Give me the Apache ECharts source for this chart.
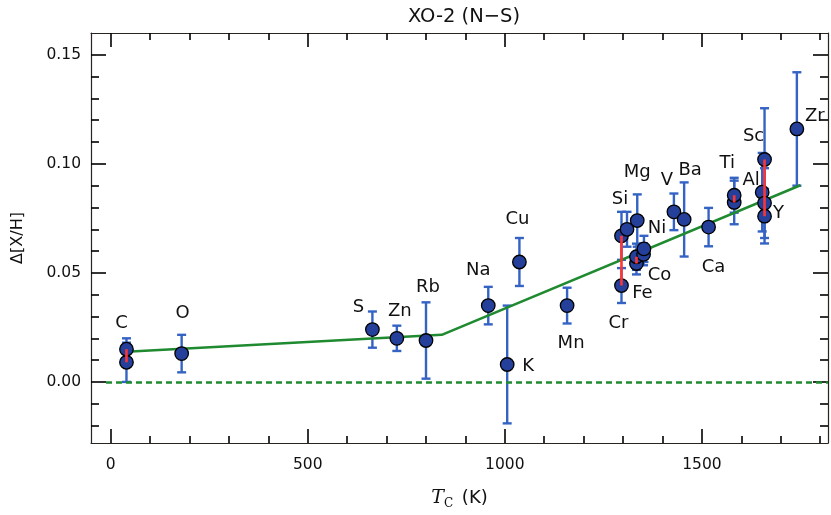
<!DOCTYPE html>
<html>
<head>
<meta charset="utf-8">
<script src="https://cdn.jsdelivr.net/npm/echarts@6/dist/echarts.min.js"></script>
<style>html,body{margin:0;padding:0;background:#fff}#c{width:831px;height:515px}</style>
</head>
<body>
<div id="c"></div>
<script>
// ---- data ----
const elements = ['C','O','S','Zn','Rb','Na','K','Cu','Mn','Cr','Si','Mg','Fe','Co','Ni','V','Ba','Ca','Ti','Al','Sc','Y','Zr'];
const tc =       [40, 180, 664, 726, 800, 958, 1006, 1037, 1158, 1296, 1310, 1336, 1334, 1352, 1353, 1429, 1455, 1517, 1582, 1653, 1659, 1659, 1741];
// first species
const dA =  [0.015, 0.013, 0.024, 0.020, 0.019, 0.035, 0.008, 0.055, 0.035, 0.067, 0.070, 0.074, 0.0574, 0.0585, 0.061, 0.078, 0.0745, 0.071, 0.0856, 0.087, 0.102, 0.082, 0.116];
const eA =  [0.005, 0.0086, 0.0083, 0.0058, 0.0175, 0.0086, 0.027, 0.011, 0.0082, 0.011, 0.008, 0.012, 0.006, 0.005, 0.006, 0.0084, 0.017, 0.0088, 0.008, 0.018, 0.0235, 0.016, 0.026];
// second species (ionised / molecular), null if none
const dB =  [0.009, null, null, null, null, null, null, null, null, 0.0442, null, null, 0.0543, null, null, null, null, null, 0.0823, null, 0.076, null, null];
const eB =  [0.009, null, null, null, null, null, null, null, null, 0.008, null, null, 0.005, null, null, null, null, null, 0.010, null, 0.0125, null, null];
// trend line
const trendTc = [40, 840, 1750];
const trendD  = [0.0138, 0.0216, 0.0902];
// tick values
const xMajor = [0, 500, 1000, 1500];
const xMinor = [100,200,300,400,600,700,800,900,1100,1200,1300,1400,1600,1700,1800];
const yMajor = [0, 0.05, 0.10, 0.15];
const yMinor = [-0.02,-0.01,0.01,0.02,0.03,0.04,0.06,0.07,0.08,0.09,0.11,0.12,0.13,0.14];

// ---- label placement (pixel offsets from the first-species point) ----
const labelOffsets = {
  C:[-5,-26], O:[1,-40], S:[-14,-22], Zn:[3,-27], Rb:[2,-53], Na:[-10,-35], K:[21,2], Cu:[-2,-43],
  Mn:[4,38], Cr:[-3,88], Si:[-7,-30], Mg:[0,-48], Fe:[6,37], Co:[16,21], Ni:[13,-21], V:[-7,-32],
  Ba:[6,-49], Ca:[5,40], Ti:[-7,-32], Al:[-11,-12], Sc:[-11,-23], Y:[14,10], Zr:[18,-13]
};

const XMIN = -50, XMAX = 1820, YMIN = -0.028, YMAX = 0.16;
const FONT = 'DejaVu Sans';
const errColor = '#3463c4', ptColor = '#24409a', green = '#1f8a30', red = '#ff3535', frame = '#2a2420';

const errData = [], ptData = [], redData = [];
elements.forEach((el, i) => {
  errData.push([tc[i], dA[i], eA[i]]);
  if (dB[i] !== null) { errData.push([tc[i], dB[i], eB[i]]); redData.push([tc[i], dA[i], dB[i]]); }
});
elements.forEach((el, i) => {
  if (dB[i] !== null) ptData.push({value:[tc[i], dB[i]]});
});
elements.forEach((el, i) => {
  const o = labelOffsets[el];
  ptData.push({value:[tc[i], dA[i]], name: el,
    label:{show:true, position:'inside', offset:o, formatter: el, color:'#111', fontSize:18, fontFamily:FONT}});
});

function mkX(pos, values, len, showLabel, showLine) {
  return {type:'value', min:XMIN, max:XMAX, position:pos, gridIndex:0,
    axisLine:{show:showLine, onZero:false, lineStyle:{color:frame, width:1.2}},
    axisTick:{show:true, inside:true, length:len, customValues:values, lineStyle:{color:'#000', width:1.6}},
    axisLabel:{show:showLabel, customValues:values, margin:14, color:'#111', fontSize:15.5, fontFamily:FONT,
      formatter: v => String(v)},
    splitLine:{show:false}};
}
function mkY(pos, values, len, showLabel, showLine) {
  return {type:'value', min:YMIN, max:YMAX, position:pos, gridIndex:0,
    axisLine:{show:showLine, onZero:false, lineStyle:{color:frame, width:1.2}},
    axisTick:{show:true, inside:true, length:len, customValues:values, lineStyle:{color:'#000', width:1.6}},
    axisLabel:{show:showLabel, customValues:values, margin:10, color:'#111', fontSize:15.5, fontFamily:FONT,
      formatter: v => v.toFixed(2)},
    splitLine:{show:false}};
}

const xAxes = [mkX('bottom', xMajor, 14, true, true), mkX('bottom', xMinor, 7, false, false),
               mkX('top', xMajor, 14, false, true), mkX('top', xMinor, 7, false, false)];
xAxes[0].name = '{it|T}{sub|C} (K)';
xAxes[0].nameLocation = 'middle';
xAxes[0].nameGap = 44;
xAxes[0].nameTextStyle = {color:'#111', fontSize:18, fontFamily:FONT,
  rich:{it:{fontFamily:'DejaVu Serif', fontStyle:'italic', fontSize:19, color:'#111'},
        sub:{fontFamily:'DejaVu Serif', fontSize:12, color:'#111', padding:[11,3,0,0]}}};
const yAxes = [mkY('left', yMajor, 15, true, true), mkY('left', yMinor, 8, false, false),
               mkY('right', yMajor, 15, false, true), mkY('right', yMinor, 8, false, false)];
yAxes[0].name = 'Δ[X/H]';
yAxes[0].nameLocation = 'middle';
yAxes[0].nameGap = 65;
yAxes[0].nameTextStyle = {color:'#111', fontSize:16, fontFamily:FONT};

const chart = echarts.init(document.getElementById('c'), null, {renderer:'canvas'});
chart.setOption({
  animation:false,
  backgroundColor:'#fff',
  title:{text:'XO-2 (N−S)', left:459, textAlign:'center', top:2,
    textStyle:{fontFamily:FONT, fontWeight:'normal', fontSize:19.5, color:'#111'}},
  grid:{left:91, right:3, top:33, bottom:72},
  xAxis: xAxes,
  yAxis: yAxes,
  series:[
    {type:'custom', name:'err', data:errData, z:2, encode:{x:0, y:1},
      renderItem:(params, api) => {
        const x = api.value(0), y = api.value(1), e = api.value(2);
        const t = api.coord([x, y + e]), b = api.coord([x, y - e]);
        const hw = 4.5, st = {stroke:errColor, lineWidth:2.4};
        return {type:'group', children:[
          {type:'line', shape:{x1:t[0], y1:t[1], x2:b[0], y2:b[1]}, style:st},
          {type:'line', shape:{x1:t[0]-hw, y1:t[1], x2:t[0]+hw, y2:t[1]}, style:st},
          {type:'line', shape:{x1:b[0]-hw, y1:b[1], x2:b[0]+hw, y2:b[1]}, style:st}
        ]};
      }},
    {type:'line', name:'trend', data:trendTc.map((t, i) => [t, trendD[i]]), symbol:'none', z:3,
      lineStyle:{color:green, width:2.5},
      markLine:{silent:true, symbol:'none', label:{show:false},
        lineStyle:{color:green, width:2.5, type:[6,4]},
        data:[[{coord:[-12, 0]}, {coord:[XMAX, 0]}]]}},
    {type:'scatter', name:'pts', data:ptData, symbol:'circle', symbolSize:13.5, z:4,
      itemStyle:{color:ptColor, borderColor:'#000', borderWidth:1.3, opacity:1}},
    {type:'custom', name:'pairs', data:redData, z:5, encode:{x:0, y:[1,2]},
      renderItem:(params, api) => {
        const a = api.coord([api.value(0), api.value(1)]), b = api.coord([api.value(0), api.value(2)]);
        return {type:'line', shape:{x1:a[0], y1:a[1], x2:b[0], y2:b[1]}, style:{stroke:red, lineWidth:2.6, opacity:1}};
      }}
  ]
});
</script>
</body>
</html>
